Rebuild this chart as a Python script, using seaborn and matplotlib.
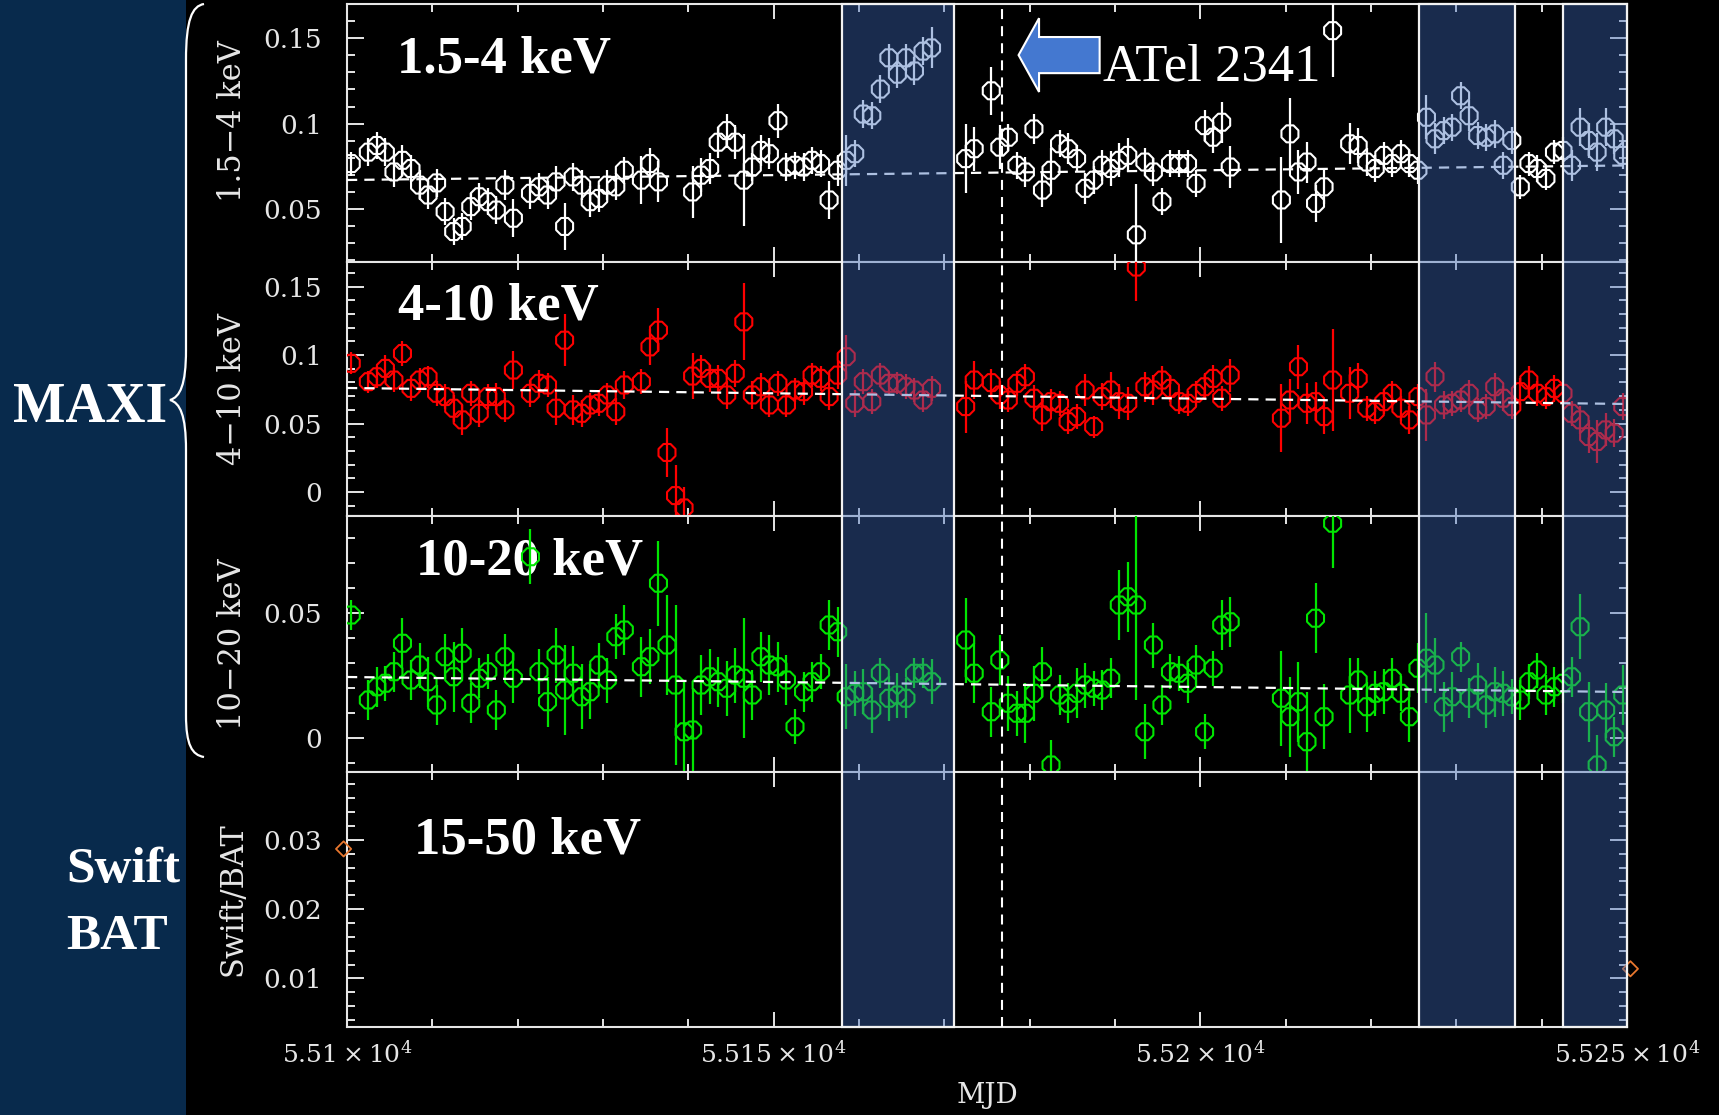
import numpy as np
import pandas as pd
import matplotlib
matplotlib.use("Agg")
import matplotlib.pyplot as plt
import matplotlib.transforms as mtransforms
from matplotlib.patches import Rectangle, Polygon, PathPatch
from matplotlib.path import Path
from matplotlib.lines import Line2D
from matplotlib.ticker import MultipleLocator, FixedLocator, FuncFormatter
import seaborn as sns

# ---------------------------------------------------------------- data
# MAXI one-day bins (MJD)
mjd = [
    55100.5,
    55102.5, 55103.5, 55104.5, 55105.5, 55106.5, 55107.5, 55108.5, 55109.5, 55110.5,
    55111.5, 55112.5, 55113.5, 55114.5, 55115.5, 55116.5, 55117.5, 55118.5, 55119.5,
    55121.5, 55122.5, 55123.5, 55124.5, 55125.5, 55126.5, 55127.5, 55128.5, 55129.5,
    55130.5, 55131.5, 55132.5,
    55134.5, 55135.5, 55136.5, 55137.5, 55138.5, 55139.5, 55140.5, 55141.5, 55142.5,
    55143.5, 55144.5, 55145.5, 55146.5, 55147.5, 55148.5, 55149.5, 55150.5, 55151.5,
    55152.5, 55153.5, 55154.5, 55155.5, 55156.5, 55157.5, 55158.5, 55159.5, 55160.5,
    55161.5, 55162.5, 55163.5, 55164.5, 55165.5, 55166.5, 55167.5, 55168.5,
    55172.5, 55173.5,
    55175.5, 55176.5, 55177.5, 55178.5, 55179.5, 55180.5, 55181.5, 55182.5, 55183.5,
    55184.5, 55185.5, 55186.5, 55187.5, 55188.5, 55189.5, 55190.5, 55191.5, 55192.5,
    55193.5, 55194.5, 55195.5, 55196.5, 55197.5, 55198.5, 55199.5, 55200.5, 55201.5,
    55202.5, 55203.5,
    55209.5, 55210.5, 55211.5, 55212.5, 55213.5, 55214.5, 55215.5,
    55217.5, 55218.5, 55219.5, 55220.5, 55221.5, 55222.5, 55223.5, 55224.5, 55225.5,
    55226.5, 55227.5, 55228.5, 55229.5, 55230.5, 55231.5, 55232.5, 55233.5, 55234.5,
    55235.5, 55236.5, 55237.5, 55238.5, 55239.5, 55240.5, 55241.5, 55242.5, 55243.5,
    55244.5, 55245.5, 55246.5, 55247.5, 55248.5, 55249.5,
]

nan = float("nan")

# 1.5-4 keV
rate_soft = [
    0.0766,
    0.0833, 0.0872, 0.0833, 0.0717, 0.0785, 0.0737, 0.0640, 0.0582, 0.0653,
    0.0485, 0.0368, 0.0398, 0.0514, 0.0572, 0.0543, 0.0494, 0.0640, 0.0446,
    0.0592, 0.0630, 0.0582, 0.0659, 0.0398, 0.0688, 0.0640, 0.0543, 0.0562,
    0.0640, 0.0630, 0.0727,
    0.0669, 0.0766, 0.0659, nan, nan, nan, 0.0600, 0.0698, 0.0737,
    0.0891, 0.0959, 0.0891, 0.0669, 0.0746, 0.0843, 0.0824, 0.1017, 0.0746,
    0.0756, 0.0746, 0.0785, 0.0766, 0.0553, 0.0727, 0.0785, 0.0824, 0.1056,
    0.1046, 0.1202, 0.1385, 0.1289, 0.1385, 0.1308, 0.1424, 0.1443,
    0.0795, 0.0853,
    0.1192, 0.0862, 0.0920, 0.0756, 0.0717, 0.0969, 0.0611, 0.0727, 0.0882,
    0.0853, 0.0795, 0.0621, 0.0669, 0.0756, 0.0737, 0.0785, 0.0814, 0.0349,
    0.0775, 0.0717, 0.0543, 0.0766, 0.0766, 0.0766, 0.0650, 0.0988, 0.0920,
    0.1008, 0.0746,
    0.0553, 0.0940, 0.0717, 0.0775, 0.0533, 0.0630, 0.1544,
    0.0882, 0.0872, 0.0775, 0.0737, 0.0814, 0.0766, 0.0824, 0.0766, 0.0727,
    0.1037, 0.0911, 0.0959, 0.0979, 0.1163, 0.1046, 0.0930, 0.0920, 0.0940,
    0.0756, 0.0901, 0.0630, 0.0766, 0.0737, 0.0679, 0.0833, 0.0843, 0.0756,
    0.0979, 0.0901, 0.0833, 0.0979, 0.0911, 0.0814,
]
err_soft = [
    0.007,
    0.008, 0.008, 0.008, 0.009, 0.009, 0.008, 0.009, 0.008, 0.008,
    0.008, 0.008, 0.008, 0.008, 0.008, 0.008, 0.008, 0.009, 0.011,
    0.009, 0.008, 0.008, 0.009, 0.014, 0.008, 0.009, 0.009, 0.008,
    0.009, 0.008, 0.008,
    0.014, 0.009, 0.012, 0.0, 0.0, 0.0, 0.015, 0.010, 0.009,
    0.009, 0.010, 0.010, 0.027, 0.008, 0.009, 0.009, 0.010, 0.008,
    0.008, 0.008, 0.008, 0.008, 0.011, 0.009, 0.015, 0.008, 0.008,
    0.008, 0.008, 0.008, 0.008, 0.008, 0.008, 0.008, 0.012,
    0.020, 0.013,
    0.014, 0.013, 0.008, 0.008, 0.009, 0.009, 0.010, 0.013, 0.008,
    0.009, 0.008, 0.009, 0.008, 0.009, 0.010, 0.010, 0.010, 0.030,
    0.008, 0.008, 0.008, 0.008, 0.008, 0.008, 0.008, 0.009, 0.009,
    0.012, 0.012,
    0.025, 0.021, 0.013, 0.012, 0.011, 0.010, 0.027,
    0.012, 0.010, 0.008, 0.008, 0.008, 0.008, 0.008, 0.008, 0.008,
    0.013, 0.009, 0.008, 0.008, 0.008, 0.009, 0.008, 0.008, 0.008,
    0.008, 0.008, 0.007, 0.007, 0.008, 0.007, 0.007, 0.008, 0.009,
    0.011, 0.010, 0.011, 0.011, 0.009, 0.008,
]

# 4-10 keV
rate_mid = [
    0.0940,
    0.0806, 0.0842, 0.0903, 0.0818, 0.1012, 0.0757, 0.0818, 0.0842, 0.0721,
    0.0697, 0.0612, 0.0527, 0.0721, 0.0575, 0.0697, 0.0697, 0.0600, 0.0891,
    0.0721, 0.0794, 0.0782, 0.0612, 0.1109, 0.0600, 0.0575, 0.0636, 0.0648,
    0.0709, 0.0587, 0.0782,
    0.0806, 0.1060, 0.1182, 0.0289, -0.0026, -0.0116, 0.0847, 0.0903, 0.0830,
    0.0830, 0.0709, 0.0867, 0.1243, 0.0709, 0.0769, 0.0636, 0.0794, 0.0636,
    0.0745, 0.0733, 0.0854, 0.0830, 0.0697, 0.0854, 0.0988, 0.0648, 0.0806,
    0.0660, 0.0854, 0.0794, 0.0794, 0.0769, 0.0745, 0.0672, 0.0757,
    0.0624, 0.0818,
    0.0799, 0.0709, 0.0672, 0.0794, 0.0842, 0.0685, 0.0563, 0.0660, 0.0648,
    0.0514, 0.0551, 0.0745, 0.0478, 0.0697, 0.0745, 0.0660, 0.0648, 0.1643,
    0.0769, 0.0745, 0.0818, 0.0757, 0.0660, 0.0648, 0.0721, 0.0769, 0.0830,
    0.0685, 0.0854,
    0.0539, 0.0672, 0.0915, 0.0648, 0.0660, 0.0551, 0.0818,
    0.0721, 0.0830, 0.0612, 0.0587, 0.0660, 0.0721, 0.0612, 0.0527, 0.0697,
    0.0563, 0.0842, 0.0636, 0.0648, 0.0672, 0.0721, 0.0600, 0.0624, 0.0769,
    0.0685, 0.0624, 0.0733, 0.0818, 0.0721, 0.0697, 0.0757, 0.0721, 0.0575,
    0.0527, 0.0405, 0.0369, 0.0454, 0.0430, 0.0624,
]
err_mid = [
    0.008,
    0.008, 0.008, 0.010, 0.009, 0.009, 0.009, 0.009, 0.008, 0.009,
    0.009, 0.010, 0.011, 0.009, 0.010, 0.009, 0.010, 0.009, 0.014,
    0.010, 0.010, 0.009, 0.012, 0.019, 0.011, 0.010, 0.009, 0.009,
    0.009, 0.010, 0.010,
    0.009, 0.013, 0.016, 0.018, 0.022, 0.015, 0.017, 0.010, 0.010,
    0.010, 0.010, 0.010, 0.028, 0.010, 0.010, 0.009, 0.009, 0.009,
    0.009, 0.010, 0.009, 0.009, 0.010, 0.010, 0.016, 0.010, 0.009,
    0.009, 0.009, 0.008, 0.008, 0.009, 0.009, 0.009, 0.009,
    0.019, 0.014,
    0.010, 0.010, 0.009, 0.009, 0.009, 0.010, 0.012, 0.009, 0.009,
    0.009, 0.009, 0.012, 0.008, 0.010, 0.013, 0.013, 0.012, 0.025,
    0.011, 0.011, 0.010, 0.010, 0.009, 0.009, 0.009, 0.010, 0.010,
    0.009, 0.012,
    0.025, 0.015, 0.016, 0.015, 0.014, 0.013, 0.037,
    0.019, 0.011, 0.009, 0.009, 0.009, 0.009, 0.009, 0.010, 0.009,
    0.019, 0.011, 0.010, 0.009, 0.009, 0.010, 0.009, 0.009, 0.010,
    0.009, 0.009, 0.010, 0.010, 0.009, 0.009, 0.010, 0.010, 0.009,
    0.010, 0.012, 0.016, 0.012, 0.010, 0.010,
]

# 10-20 keV
rate_hard = [
    0.0492,
    0.0152, 0.0205, 0.0219, 0.0265, 0.0379, 0.0232, 0.0292, 0.0225, 0.0132,
    0.0325, 0.0245, 0.0339, 0.0139, 0.0239, 0.0265, 0.0112, 0.0325, 0.0239,
    0.0725, 0.0265, 0.0145, 0.0332, 0.0192, 0.0259, 0.0165, 0.0185, 0.0292,
    0.0232, 0.0405, 0.0432,
    0.0285, 0.0325, 0.0619, 0.0372, 0.0212, 0.0025, 0.0032, 0.0212, 0.0245,
    0.0225, 0.0199, 0.0252, 0.0239, 0.0172, 0.0325, 0.0292, 0.0285, 0.0232,
    0.0045, 0.0185, 0.0225, 0.0265, 0.0452, 0.0425, 0.0165, 0.0179, 0.0185,
    0.0112, 0.0259, 0.0159, 0.0172, 0.0159, 0.0259, 0.0259, 0.0225,
    0.0392, 0.0259,
    0.0105, 0.0312, 0.0139, 0.0099, 0.0099, 0.0179, 0.0265, -0.0108, 0.0172,
    0.0139, 0.0179, 0.0212, 0.0199, 0.0192, 0.0239, 0.0532, 0.0565, 0.0532,
    0.0025, 0.0372, 0.0132, 0.0265, 0.0259, 0.0219, 0.0292, 0.0025, 0.0279,
    0.0452, 0.0465,
    0.0159, 0.0085, 0.0145, -0.0015, 0.0479, 0.0085, 0.0859,
    0.0172, 0.0232, 0.0125, 0.0179, 0.0185, 0.0239, 0.0179, 0.0085, 0.0279,
    0.0319, 0.0292, 0.0125, 0.0165, 0.0325, 0.0159, 0.0212, 0.0132, 0.0185,
    0.0179, 0.0165, 0.0152, 0.0225, 0.0272, 0.0172, 0.0205, 0.0219, 0.0245,
    0.0445, 0.0105, -0.0108, 0.0112, 0.0005, 0.0172,
]
err_hard = [
    0.006,
    0.008, 0.008, 0.007, 0.008, 0.010, 0.008, 0.009, 0.010, 0.008,
    0.009, 0.014, 0.010, 0.008, 0.008, 0.007, 0.008, 0.009, 0.010,
    0.011, 0.009, 0.010, 0.011, 0.018, 0.011, 0.013, 0.011, 0.009,
    0.009, 0.009, 0.010,
    0.012, 0.011, 0.017, 0.020, 0.032, 0.020, 0.017, 0.012, 0.011,
    0.010, 0.011, 0.011, 0.024, 0.010, 0.010, 0.012, 0.010, 0.010,
    0.007, 0.008, 0.008, 0.007, 0.010, 0.010, 0.013, 0.009, 0.009,
    0.009, 0.006, 0.009, 0.009, 0.008, 0.006, 0.006, 0.009,
    0.017, 0.012,
    0.010, 0.010, 0.011, 0.009, 0.012, 0.011, 0.010, 0.010, 0.008,
    0.008, 0.010, 0.009, 0.007, 0.008, 0.008, 0.014, 0.014, 0.038,
    0.011, 0.009, 0.008, 0.007, 0.007, 0.008, 0.008, 0.007, 0.007,
    0.010, 0.010,
    0.019, 0.016, 0.016, 0.020, 0.014, 0.013, 0.018,
    0.015, 0.009, 0.010, 0.009, 0.009, 0.008, 0.007, 0.010, 0.010,
    0.018, 0.011, 0.010, 0.010, 0.006, 0.008, 0.009, 0.009, 0.010,
    0.009, 0.007, 0.008, 0.007, 0.007, 0.008, 0.008, 0.008, 0.008,
    0.013, 0.012, 0.012, 0.011, 0.008, 0.012,
]

# Swift/BAT 15-50 keV (only the two edge bins fall on the plotted range)
bat_mjd = [55099.6, 55250.4]
bat_rate = [0.0287, 0.0114]

# linear trend (start, end) over the plotted span
trend_mjd = [55100.0, 55250.0]
trend_soft = [0.0670, 0.0755]
trend_mid = [0.0760, 0.0643]
trend_hard = [0.0244, 0.0184]

# highlighted intervals and the ATel 2341 epoch
windows = [(55158.0, 55171.1), (55225.6, 55236.9), (55242.5, 55250.0)]
atel_mjd = 55176.8

x_range = (55100, 55250)
x_ticks = [55100, 55150, 55200, 55250]

panel_titles = ["1.5-4 keV", "4-10 keV", "10-20 keV", "15-50 keV"]
y_titles = ["1.5\u22124 keV", "4\u221210 keV", "10\u221220 keV", "Swift/BAT"]
y_limits = [(0.019, 0.170), (-0.0175, 0.168), (-0.0136, 0.0888), (0.003, 0.0398)]
y_major = [[0.05, 0.10, 0.15], [0.0, 0.05, 0.10, 0.15], [0.0, 0.05], [0.01, 0.02, 0.03]]
y_minor = [0.01, 0.01, 0.01, 0.002]

# ---------------------------------------------------------------- style
sns.set_theme(style="ticks")
plt.rcParams.update({
    "figure.facecolor": "black",
    "axes.facecolor": "black",
    "axes.edgecolor": "#e6e6e6",
    "axes.linewidth": 1.5,
    "text.color": "white",
    "axes.labelcolor": "#e6e6e6",
    "xtick.color": "#e6e6e6",
    "ytick.color": "#e6e6e6",
    "mathtext.fontset": "dejavuserif",
})
plt.rcParams["font.family"] = ["DejaVu Serif"]

W, H = 1719, 1115
fig = plt.figure(figsize=(W / 100, H / 100), dpi=100)

# left navy strip
fig.add_artist(Rectangle((0, 0), 186 / W, 1, transform=fig.transFigure,
                         facecolor="#082a4c", edgecolor="none", zorder=0.5))

# stacked panels (pixel rows of each panel)
rows = [(4, 262), (262, 516), (516, 772), (772, 1027)]
left, width = 347 / W, 1280 / W
axes = []
for top, bot in rows:
    axes.append(fig.add_axes([left, 1 - bot / H, width, (bot - top) / H]))

frame = pd.DataFrame({"mjd": mjd, "soft": rate_soft, "mid": rate_mid, "hard": rate_hard})
series = [
    ("soft", err_soft, "#ffffff", trend_soft),
    ("mid", err_mid, "#ff0000", trend_mid),
    ("hard", err_hard, "#00e600", trend_hard),
]

fmt_y = FuncFormatter(lambda v, _: f"{round(v, 4) + 0.0:g}")
fmt_x = FuncFormatter(lambda v, _: rf"${v / 1e4:g}\times10^{{4}}$")

for i, ax in enumerate(axes):
    ax.set_xlim(*x_range)
    ax.set_ylim(*y_limits[i])
    ax.xaxis.set_major_locator(FixedLocator(x_ticks))
    ax.xaxis.set_minor_locator(MultipleLocator(10))
    ax.yaxis.set_major_locator(FixedLocator(y_major[i]))
    ax.yaxis.set_minor_locator(MultipleLocator(y_minor[i]))
    ax.yaxis.set_major_formatter(fmt_y)
    ax.tick_params(which="both", direction="in", top=True, right=True, width=1.4)
    ax.tick_params(axis="y", which="major", length=12, labelsize=19, pad=18)
    ax.tick_params(axis="y", which="minor", length=6)
    ax.tick_params(axis="x", which="major", length=11)
    ax.tick_params(axis="x", which="minor", length=6)
    ax.grid(False)
    for s in ax.spines.values():
        s.set_color("#e6e6e6")
        s.set_linewidth(1.5)
    if i < 3:
        ax.tick_params(axis="x", labelbottom=False)

# band light curves
for ax, (col, err, color, trend) in zip(axes[:3], series):
    ax.errorbar(frame["mjd"], frame[col], yerr=err, fmt="none", ecolor=color,
                elinewidth=1.6, capsize=0, zorder=3)
    sns.scatterplot(data=frame, x="mjd", y=col, ax=ax, marker="8", s=175,
                    facecolor="none", edgecolor=color, linewidth=1.5,
                    legend=False, zorder=4)
    ax.plot(trend_mjd, trend, color="white", lw=1.6, dashes=(4.6, 3.2), zorder=5)
    ax.set_xlabel("")

# Swift/BAT panel
axb = axes[3]
sns.scatterplot(x=bat_mjd, y=bat_rate, ax=axb, marker="D", s=60,
                facecolor="none", edgecolor="#e8772e", linewidth=1.3,
                legend=False, clip_on=False, zorder=4)
axb.xaxis.set_major_formatter(fmt_x)
axb.tick_params(axis="x", labelsize=18, pad=10)
axb.set_xlabel("MJD", fontsize=20, color="#e6e6e6")
axb.xaxis.set_label_coords(0.5, -0.215)

for i, ax in enumerate(axes):
    ax.set_ylabel(y_titles[i], fontsize=22, color="#e6e6e6")
    ax.yaxis.set_label_coords(-0.077, 0.545 if i == 0 else 0.5)

# energy-band captions
title_pos = [(0.039, 0.733), (0.040, 0.772), (0.054, 0.770), (0.052, 0.682)]
for ax, t, (tx, ty) in zip(axes, panel_titles, title_pos):
    ax.text(tx, ty, t, transform=ax.transAxes, fontsize=38, fontweight="bold",
            family=["Liberation Serif", "DejaVu Serif"], color="white",
            va="baseline", ha="left", zorder=2)

# highlighted windows spanning all panels
span = mtransforms.blended_transform_factory(axb.transData, fig.transFigure)
y_lo, y_hi = 1 - rows[-1][1] / H, 1 - rows[0][0] / H
for a, b in windows:
    fig.add_artist(Rectangle((a, y_lo), b - a, y_hi - y_lo, transform=span,
                             facecolor=(0.235, 0.41, 0.725, 0.42),
                             edgecolor="#f2f2f2", linewidth=1.6, zorder=10))

# ATel 2341 epoch
fig.add_artist(Line2D([atel_mjd, atel_mjd], [y_lo, y_hi], transform=span,
                      color="white", lw=1.5, dashes=(4.8, 3.4), zorder=11))

# arrow and caption pointing at the ATel epoch
arr = mtransforms.blended_transform_factory(axes[0].transData, axes[0].transAxes)
yc, hh, sh = 0.802, 0.143, 0.070
tip, hb, se = atel_mjd + 1.9, atel_mjd + 4.3, atel_mjd + 11.4
axes[0].add_patch(Polygon(
    [(tip, yc), (hb, yc + hh), (hb, yc + sh), (se, yc + sh),
     (se, yc - sh), (hb, yc - sh), (hb, yc - hh)],
    closed=True, transform=arr, facecolor="#4478d0", edgecolor="white",
    linewidth=1.5, clip_on=False, zorder=7))
axes[0].text(atel_mjd + 11.8, 0.705, "ATel 2341", transform=arr, fontsize=38,
             family=["Liberation Serif", "DejaVu Serif"], color="white",
             va="baseline", ha="left", zorder=7)

# instrument names and brace on the left strip
fig.text(13 / W, 1 - 422 / H, "MAXI", fontsize=40, fontweight="bold",
         family=["Liberation Serif", "DejaVu Serif"], color="white", va="baseline")
fig.text(66 / W, 1 - 882 / H, "Swift", fontsize=37, fontweight="bold",
         family=["Liberation Serif", "DejaVu Serif"], color="white", va="baseline")
fig.text(66 / W, 1 - 949 / H, "BAT", fontsize=37, fontweight="bold",
         family=["Liberation Serif", "DejaVu Serif"], color="white", va="baseline")


def px(x, y):
    return (x / W, 1 - y / H)


brace_pts = [px(204, 4), px(192, 6), px(186, 20), px(186, 60),
             px(186, 350),
             px(186, 385), px(180, 397), px(170, 400),
             px(180, 403), px(186, 415), px(186, 450),
             px(186, 715),
             px(186, 745), px(192, 755), px(204, 757)]
brace_codes = [Path.MOVETO, Path.CURVE4, Path.CURVE4, Path.CURVE4,
               Path.LINETO,
               Path.CURVE4, Path.CURVE4, Path.CURVE4,
               Path.CURVE4, Path.CURVE4, Path.CURVE4,
               Path.LINETO,
               Path.CURVE4, Path.CURVE4, Path.CURVE4]
fig.add_artist(PathPatch(Path(brace_pts, brace_codes), transform=fig.transFigure,
                         facecolor="none", edgecolor="white", linewidth=1.6, zorder=6))

fig.savefig("out.png", dpi=100, facecolor="black")
